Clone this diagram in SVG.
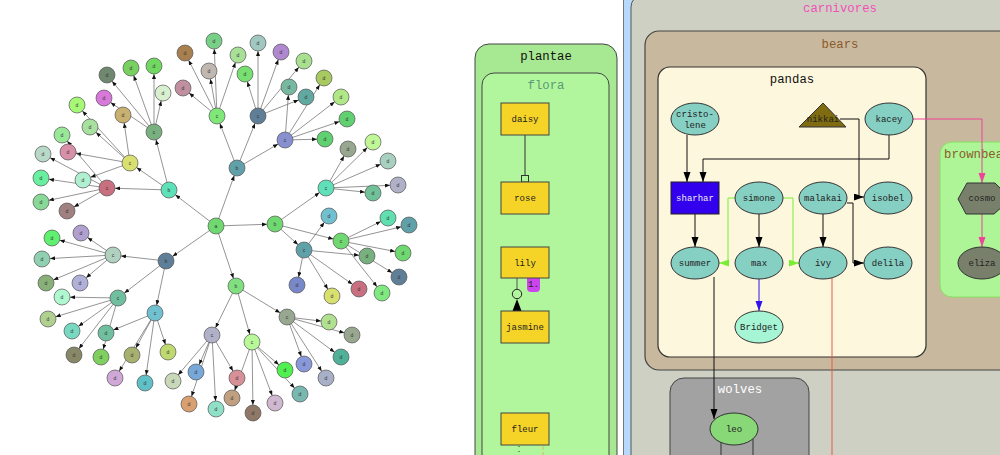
<svg xmlns="http://www.w3.org/2000/svg" width="1000" height="455" viewBox="0 0 1000 455">
<style>
.tc{stroke:#555;stroke-width:0.7}
.tt{font-family:"Liberation Sans",sans-serif;font-size:5px;fill:#333;text-anchor:middle}
.te path{fill:none;stroke:#666;stroke-width:0.7;marker-end:url(#ta)}
.lbl{font-family:"Liberation Mono",monospace;font-size:12.3px;text-anchor:middle}
.nl{font-family:"Liberation Mono",monospace;font-size:9px;text-anchor:middle;fill:#222}
.el{fill:#86cfc3;stroke:#333;stroke-width:1}
.yr{fill:#f5d327;stroke:#444;stroke-width:1}
.bk{fill:none;stroke:#111;stroke-width:1}
</style>
<defs>
<marker id="ta" markerUnits="userSpaceOnUse" markerWidth="6" markerHeight="5" refX="13" refY="2" orient="auto"><path d="M0,0L5,2L0,4z" fill="#111"/></marker>
<marker id="ab" markerUnits="userSpaceOnUse" markerWidth="10" markerHeight="8" refX="10" refY="3.5" orient="auto"><path d="M0,0L10,3.5L0,7z" fill="#000"/></marker>
<marker id="ag" markerUnits="userSpaceOnUse" markerWidth="10" markerHeight="8" refX="10" refY="3.5" orient="auto"><path d="M0,0L10,3.5L0,7z" fill="#77ee33"/></marker>
<marker id="au" markerUnits="userSpaceOnUse" markerWidth="10" markerHeight="8" refX="10" refY="3.5" orient="auto"><path d="M0,0L10,3.5L0,7z" fill="#3311ee"/></marker>
<marker id="ap" markerUnits="userSpaceOnUse" markerWidth="10" markerHeight="8" refX="10" refY="3.5" orient="auto"><path d="M0,0L10,3.5L0,7z" fill="#ee4499"/></marker>
</defs>
<rect width="1000" height="455" fill="#fff"/>

<!-- radial tree connectors -->
<g id="tree-edges" class="te">
<path d="M216,226L169,190"/><path d="M216,226L237,168"/><path d="M216,226L275,224"/><path d="M216,226L166,261"/><path d="M216,226L236,286"/>
<path d="M169,190L107,188"/><path d="M169,190L130,163"/><path d="M169,190L154,132"/>
<path d="M237,168L217,116"/><path d="M237,168L258,116"/><path d="M237,168L285,140"/>
<path d="M275,224L326,188"/><path d="M275,224L304,250"/><path d="M275,224L341,241"/>
<path d="M166,261L113,255"/><path d="M166,261L118,298"/><path d="M166,261L155,313"/>
<path d="M236,286L212,335"/><path d="M236,286L252,342"/><path d="M236,286L287,317"/>
<path d="M154,132L107,75"/><path d="M154,132L131,68"/><path d="M154,132L154,66"/><path d="M154,132L163,93"/><path d="M154,132L104,98"/>
<path d="M130,163L123,115"/><path d="M130,163L90,127"/><path d="M130,163L77,105"/><path d="M130,163L68,152"/><path d="M130,163L83,180"/>
<path d="M107,188L62,135"/><path d="M107,188L43,154"/><path d="M107,188L41,178"/><path d="M107,188L41,202"/><path d="M107,188L67,211"/>
<path d="M217,116L185,53"/><path d="M217,116L183,88"/><path d="M217,116L209,71"/><path d="M217,116L214,41"/><path d="M217,116L238,55"/>
<path d="M258,116L245,74"/><path d="M258,116L258,43"/><path d="M258,116L281,52"/><path d="M258,116L304,61"/><path d="M258,116L306,97"/>
<path d="M285,140L289,87"/><path d="M285,140L324,78"/><path d="M285,140L341,97"/><path d="M285,140L347,119"/><path d="M285,140L325,139"/>
<path d="M326,188L348,149"/><path d="M326,188L373,142"/><path d="M326,188L388,161"/><path d="M326,188L398,185"/><path d="M326,188L373,193"/>
<path d="M304,250L329,216"/><path d="M304,250L297,285"/><path d="M304,250L332,296"/><path d="M304,250L359,289"/><path d="M304,250L367,256"/>
<path d="M341,241L388,218"/><path d="M341,241L409,225"/><path d="M341,241L403,253"/><path d="M341,241L399,277"/><path d="M341,241L382,293"/>
<path d="M113,255L81,233"/><path d="M113,255L52,238"/><path d="M113,255L42,259"/><path d="M113,255L46,283"/><path d="M113,255L80,283"/>
<path d="M118,298L62,297"/><path d="M118,298L48,319"/><path d="M118,298L72,331"/><path d="M118,298L74,355"/><path d="M118,298L101,357"/>
<path d="M155,313L106,333"/><path d="M155,313L132,355"/><path d="M155,313L168,352"/><path d="M155,313L115,378"/><path d="M155,313L145,383"/>
<path d="M212,335L196,372"/><path d="M212,335L173,381"/><path d="M212,335L189,404"/><path d="M212,335L216,409"/><path d="M212,335L237,378"/>
<path d="M252,342L232,398"/><path d="M252,342L253,413"/><path d="M252,342L275,403"/><path d="M252,342L300,394"/><path d="M252,342L285,370"/>
<path d="M287,317L329,322"/><path d="M287,317L352,335"/><path d="M287,317L341,357"/><path d="M287,317L326,378"/><path d="M287,317L304,364"/>
</g>

<!-- radial tree nodes -->
<g id="tree-nodes">
<g id="t-a"><circle class="tc" cx="216" cy="226" r="8" fill="#70d870"/><text class="tt" x="216" y="228">a</text></g>
<g id="t-b1"><circle class="tc" cx="169" cy="190" r="8" fill="#5ee0b8"/><text class="tt" x="169" y="192">b</text></g>
<g id="t-b2"><circle class="tc" cx="237" cy="168" r="8" fill="#60a0a8"/><text class="tt" x="237" y="170">b</text></g>
<g id="t-b3"><circle class="tc" cx="275" cy="224" r="8" fill="#70d870"/><text class="tt" x="275" y="226">b</text></g>
<g id="t-b4"><circle class="tc" cx="166" cy="261" r="8" fill="#5f7f98"/><text class="tt" x="166" y="263">b</text></g>
<g id="t-b5"><circle class="tc" cx="236" cy="286" r="8" fill="#80e080"/><text class="tt" x="236" y="288">b</text></g>
<g id="t-c1"><circle class="tc" cx="107" cy="188" r="8" fill="#c87080"/><text class="tt" x="107" y="190">c</text></g>
<g id="t-c2"><circle class="tc" cx="130" cy="163" r="8" fill="#d8e070"/><text class="tt" x="130" y="165">c</text></g>
<g id="t-c3"><circle class="tc" cx="154" cy="132" r="8" fill="#78b080"/><text class="tt" x="154" y="134">c</text></g>
<g id="t-c4"><circle class="tc" cx="217" cy="116" r="8" fill="#80e878"/><text class="tt" x="217" y="118">c</text></g>
<g id="t-c5"><circle class="tc" cx="258" cy="116" r="8" fill="#5f7f98"/><text class="tt" x="258" y="118">c</text></g>
<g id="t-c6"><circle class="tc" cx="285" cy="140" r="8" fill="#8890d0"/><text class="tt" x="285" y="142">c</text></g>
<g id="t-c7"><circle class="tc" cx="326" cy="188" r="8" fill="#60e0b8"/><text class="tt" x="326" y="190">c</text></g>
<g id="t-c8"><circle class="tc" cx="304" cy="250" r="8" fill="#60a0a8"/><text class="tt" x="304" y="252">c</text></g>
<g id="t-c9"><circle class="tc" cx="341" cy="241" r="8" fill="#70d870"/><text class="tt" x="341" y="243">c</text></g>
<g id="t-c10"><circle class="tc" cx="113" cy="255" r="8" fill="#b0d0c0"/><text class="tt" x="113" y="257">c</text></g>
<g id="t-c11"><circle class="tc" cx="118" cy="298" r="8" fill="#70c0a0"/><text class="tt" x="118" y="300">c</text></g>
<g id="t-c12"><circle class="tc" cx="155" cy="313" r="8" fill="#70c0d0"/><text class="tt" x="155" y="315">c</text></g>
<g id="t-c13"><circle class="tc" cx="212" cy="335" r="8" fill="#b0b0c8"/><text class="tt" x="212" y="337">c</text></g>
<g id="t-c14"><circle class="tc" cx="252" cy="342" r="8" fill="#b8f898"/><text class="tt" x="252" y="344">c</text></g>
<g id="t-c15"><circle class="tc" cx="287" cy="317" r="8" fill="#98a890"/><text class="tt" x="287" y="319">c</text></g>
<g id="t-d1"><circle class="tc" cx="107" cy="75" r="8" fill="#708870"/><text class="tt" x="107" y="77">d</text></g>
<g id="t-d2"><circle class="tc" cx="131" cy="68" r="8" fill="#78d060"/><text class="tt" x="131" y="70">d</text></g>
<g id="t-d3"><circle class="tc" cx="154" cy="66" r="8" fill="#70d860"/><text class="tt" x="154" y="68">d</text></g>
<g id="t-d4"><circle class="tc" cx="163" cy="93" r="8" fill="#d8f0d0"/><text class="tt" x="163" y="95">d</text></g>
<g id="t-d5"><circle class="tc" cx="104" cy="98" r="8" fill="#d878d8"/><text class="tt" x="104" y="100">d</text></g>
<g id="t-d6"><circle class="tc" cx="123" cy="115" r="8" fill="#c8b070"/><text class="tt" x="123" y="117">d</text></g>
<g id="t-d7"><circle class="tc" cx="90" cy="127" r="8" fill="#a8e0a0"/><text class="tt" x="90" y="129">d</text></g>
<g id="t-d8"><circle class="tc" cx="77" cy="105" r="8" fill="#a8f878"/><text class="tt" x="77" y="107">d</text></g>
<g id="t-d9"><circle class="tc" cx="68" cy="152" r="8" fill="#d890a8"/><text class="tt" x="68" y="154">d</text></g>
<g id="t-d10"><circle class="tc" cx="83" cy="180" r="8" fill="#b0f0d0"/><text class="tt" x="83" y="182">d</text></g>
<g id="t-d11"><circle class="tc" cx="62" cy="135" r="8" fill="#98e898"/><text class="tt" x="62" y="137">d</text></g>
<g id="t-d12"><circle class="tc" cx="43" cy="154" r="8" fill="#b8d8c8"/><text class="tt" x="43" y="156">d</text></g>
<g id="t-d13"><circle class="tc" cx="41" cy="178" r="8" fill="#68f0a0"/><text class="tt" x="41" y="180">d</text></g>
<g id="t-d14"><circle class="tc" cx="41" cy="202" r="8" fill="#88d898"/><text class="tt" x="41" y="204">d</text></g>
<g id="t-d15"><circle class="tc" cx="67" cy="211" r="8" fill="#a08080"/><text class="tt" x="67" y="213">d</text></g>
<g id="t-d16"><circle class="tc" cx="185" cy="53" r="8" fill="#a88050"/><text class="tt" x="185" y="55">d</text></g>
<g id="t-d17"><circle class="tc" cx="183" cy="88" r="8" fill="#c090a0"/><text class="tt" x="183" y="90">d</text></g>
<g id="t-d18"><circle class="tc" cx="209" cy="71" r="8" fill="#c0b8b0"/><text class="tt" x="209" y="73">d</text></g>
<g id="t-d19"><circle class="tc" cx="214" cy="41" r="8" fill="#78d088"/><text class="tt" x="214" y="43">d</text></g>
<g id="t-d20"><circle class="tc" cx="238" cy="55" r="8" fill="#a8e098"/><text class="tt" x="238" y="57">d</text></g>
<g id="t-d21"><circle class="tc" cx="245" cy="74" r="8" fill="#78e070"/><text class="tt" x="245" y="76">d</text></g>
<g id="t-d22"><circle class="tc" cx="258" cy="43" r="8" fill="#a0c8c0"/><text class="tt" x="258" y="45">d</text></g>
<g id="t-d23"><circle class="tc" cx="281" cy="52" r="8" fill="#b088d0"/><text class="tt" x="281" y="54">d</text></g>
<g id="t-d24"><circle class="tc" cx="304" cy="61" r="8" fill="#a8e090"/><text class="tt" x="304" y="63">d</text></g>
<g id="t-d25"><circle class="tc" cx="306" cy="97" r="8" fill="#60a8a0"/><text class="tt" x="306" y="99">d</text></g>
<g id="t-d26"><circle class="tc" cx="289" cy="87" r="8" fill="#78b8a0"/><text class="tt" x="289" y="89">d</text></g>
<g id="t-d27"><circle class="tc" cx="324" cy="78" r="8" fill="#a8c860"/><text class="tt" x="324" y="80">d</text></g>
<g id="t-d28"><circle class="tc" cx="341" cy="97" r="8" fill="#b0e888"/><text class="tt" x="341" y="99">d</text></g>
<g id="t-d29"><circle class="tc" cx="347" cy="119" r="8" fill="#60d070"/><text class="tt" x="347" y="121">d</text></g>
<g id="t-d30"><circle class="tc" cx="325" cy="139" r="8" fill="#60d070"/><text class="tt" x="325" y="141">d</text></g>
<g id="t-d31"><circle class="tc" cx="348" cy="149" r="8" fill="#98a890"/><text class="tt" x="348" y="151">d</text></g>
<g id="t-d32"><circle class="tc" cx="373" cy="142" r="8" fill="#c0f898"/><text class="tt" x="373" y="144">d</text></g>
<g id="t-d33"><circle class="tc" cx="388" cy="161" r="8" fill="#a8d0c0"/><text class="tt" x="388" y="163">d</text></g>
<g id="t-d34"><circle class="tc" cx="398" cy="185" r="8" fill="#b0b0c8"/><text class="tt" x="398" y="187">d</text></g>
<g id="t-d35"><circle class="tc" cx="373" cy="193" r="8" fill="#70c098"/><text class="tt" x="373" y="195">d</text></g>
<g id="t-d36"><circle class="tc" cx="329" cy="216" r="8" fill="#70c0d0"/><text class="tt" x="329" y="218">d</text></g>
<g id="t-d37"><circle class="tc" cx="297" cy="285" r="8" fill="#7888c8"/><text class="tt" x="297" y="287">d</text></g>
<g id="t-d38"><circle class="tc" cx="332" cy="296" r="8" fill="#d8e070"/><text class="tt" x="332" y="298">d</text></g>
<g id="t-d39"><circle class="tc" cx="359" cy="289" r="8" fill="#c87080"/><text class="tt" x="359" y="291">d</text></g>
<g id="t-d40"><circle class="tc" cx="367" cy="256" r="8" fill="#78b080"/><text class="tt" x="367" y="258">d</text></g>
<g id="t-d41"><circle class="tc" cx="388" cy="218" r="8" fill="#60e0b0"/><text class="tt" x="388" y="220">d</text></g>
<g id="t-d42"><circle class="tc" cx="409" cy="225" r="8" fill="#60a0a8"/><text class="tt" x="409" y="227">d</text></g>
<g id="t-d43"><circle class="tc" cx="403" cy="253" r="8" fill="#70d870"/><text class="tt" x="403" y="255">d</text></g>
<g id="t-d44"><circle class="tc" cx="399" cy="277" r="8" fill="#5f7f98"/><text class="tt" x="399" y="279">d</text></g>
<g id="t-d45"><circle class="tc" cx="382" cy="293" r="8" fill="#80e880"/><text class="tt" x="382" y="295">d</text></g>
<g id="t-d46"><circle class="tc" cx="81" cy="233" r="8" fill="#b0a0d0"/><text class="tt" x="81" y="235">d</text></g>
<g id="t-d47"><circle class="tc" cx="52" cy="238" r="8" fill="#60f070"/><text class="tt" x="52" y="240">d</text></g>
<g id="t-d48"><circle class="tc" cx="42" cy="259" r="8" fill="#90d0b0"/><text class="tt" x="42" y="261">d</text></g>
<g id="t-d49"><circle class="tc" cx="46" cy="283" r="8" fill="#88b078"/><text class="tt" x="46" y="285">d</text></g>
<g id="t-d50"><circle class="tc" cx="80" cy="283" r="8" fill="#b0b0d8"/><text class="tt" x="80" y="285">d</text></g>
<g id="t-d51"><circle class="tc" cx="62" cy="297" r="8" fill="#b0f8d0"/><text class="tt" x="62" y="299">d</text></g>
<g id="t-d52"><circle class="tc" cx="48" cy="319" r="8" fill="#b0d090"/><text class="tt" x="48" y="321">d</text></g>
<g id="t-d53"><circle class="tc" cx="72" cy="331" r="8" fill="#78d8c0"/><text class="tt" x="72" y="333">d</text></g>
<g id="t-d54"><circle class="tc" cx="74" cy="355" r="8" fill="#888868"/><text class="tt" x="74" y="357">d</text></g>
<g id="t-d55"><circle class="tc" cx="101" cy="357" r="8" fill="#80d060"/><text class="tt" x="101" y="359">d</text></g>
<g id="t-d56"><circle class="tc" cx="106" cy="333" r="8" fill="#70c0a0"/><text class="tt" x="106" y="335">d</text></g>
<g id="t-d57"><circle class="tc" cx="132" cy="355" r="8" fill="#a8b070"/><text class="tt" x="132" y="357">d</text></g>
<g id="t-d58"><circle class="tc" cx="168" cy="352" r="8" fill="#c0d870"/><text class="tt" x="168" y="354">d</text></g>
<g id="t-d59"><circle class="tc" cx="115" cy="378" r="8" fill="#d0a8d8"/><text class="tt" x="115" y="380">d</text></g>
<g id="t-d60"><circle class="tc" cx="145" cy="383" r="8" fill="#60c0c8"/><text class="tt" x="145" y="385">d</text></g>
<g id="t-d61"><circle class="tc" cx="196" cy="372" r="8" fill="#78a8d8"/><text class="tt" x="196" y="374">d</text></g>
<g id="t-d62"><circle class="tc" cx="173" cy="381" r="8" fill="#c8d8b8"/><text class="tt" x="173" y="383">d</text></g>
<g id="t-d63"><circle class="tc" cx="189" cy="404" r="8" fill="#d8a070"/><text class="tt" x="189" y="406">d</text></g>
<g id="t-d64"><circle class="tc" cx="216" cy="409" r="8" fill="#90e0c8"/><text class="tt" x="216" y="411">d</text></g>
<g id="t-d65"><circle class="tc" cx="237" cy="378" r="8" fill="#d89098"/><text class="tt" x="237" y="380">d</text></g>
<g id="t-d66"><circle class="tc" cx="232" cy="398" r="8" fill="#c0a080"/><text class="tt" x="232" y="400">d</text></g>
<g id="t-d67"><circle class="tc" cx="253" cy="413" r="8" fill="#907868"/><text class="tt" x="253" y="415">d</text></g>
<g id="t-d68"><circle class="tc" cx="275" cy="403" r="8" fill="#d0b8d0"/><text class="tt" x="275" y="405">d</text></g>
<g id="t-d69"><circle class="tc" cx="300" cy="394" r="8" fill="#78b8b0"/><text class="tt" x="300" y="396">d</text></g>
<g id="t-d70"><circle class="tc" cx="285" cy="370" r="8" fill="#50f050"/><text class="tt" x="285" y="372">d</text></g>
<g id="t-d71"><circle class="tc" cx="329" cy="322" r="8" fill="#b0e090"/><text class="tt" x="329" y="324">d</text></g>
<g id="t-d72"><circle class="tc" cx="352" cy="335" r="8" fill="#98a890"/><text class="tt" x="352" y="337">d</text></g>
<g id="t-d73"><circle class="tc" cx="341" cy="357" r="8" fill="#50b098"/><text class="tt" x="341" y="359">d</text></g>
<g id="t-d74"><circle class="tc" cx="326" cy="378" r="8" fill="#a8b0c8"/><text class="tt" x="326" y="380">d</text></g>
<g id="t-d75"><circle class="tc" cx="304" cy="364" r="8" fill="#8898d8"/><text class="tt" x="304" y="366">d</text></g>
</g>

<!-- plantae -->
<g id="plantae">
<rect x="475" y="44" width="142" height="440" rx="14" fill="#a7e892" stroke="#444" stroke-width="1"/>
<text class="lbl" x="546" y="60" fill="#111">plantae</text>
</g>
<g id="flora">
<rect x="482" y="73" width="127" height="420" rx="12" fill="#b1f69c" stroke="#444" stroke-width="1"/>
<text class="lbl" x="546" y="89" fill="#5a9a7a">flora</text>
</g>
<g id="plant-edges">
<path d="M525,135V175" stroke="#333" stroke-width="1" fill="none"/>
<rect x="521.5" y="175.5" width="7" height="6.5" fill="#b1f69c" stroke="#333" stroke-width="1"/>
<path d="M517,278V289" stroke="#555" stroke-width="1" fill="none"/>
<circle cx="517" cy="294" r="4.7" fill="none" stroke="#222" stroke-width="1"/>
<path d="M517,299L521.5,311L512.5,311z" fill="#000"/>
<rect x="527" y="275" width="13" height="17" rx="4" fill="#cc44ee"/>
<text class="nl" x="533.5" y="287" fill="#222">1.</text>
<path d="M519,446V455" stroke="#333" stroke-width="1" stroke-dasharray="1,4"/>
<path d="M543,446V455" stroke="#e0b860" stroke-width="1" stroke-dasharray="4,2"/>
</g>
<g id="daisy"><rect class="yr" x="501" y="103" width="48" height="32"/><text class="nl" x="525" y="122">daisy</text></g>
<g id="rose"><rect class="yr" x="501" y="182" width="48" height="32"/><text class="nl" x="525" y="201">rose</text></g>
<g id="lily"><rect class="yr" x="501" y="247" width="48" height="31"/><text class="nl" x="525" y="266">lily</text></g>
<g id="jasmine"><rect class="yr" x="501" y="311" width="48" height="32"/><text class="nl" x="525" y="330">jasmine</text></g>
<g id="fleur"><rect class="yr" x="501" y="413" width="48" height="32"/><text class="nl" x="525" y="432">fleur</text></g>

<!-- animals -->
<g id="animals"><rect x="623.5" y="-20" width="420" height="500" fill="#b7d9fb" stroke="#777" stroke-width="1"/></g>
<g id="carnivores">
<rect x="631" y="-5" width="420" height="480" rx="12" fill="#cfd0c4" stroke="#555" stroke-width="1"/>
<text class="lbl" x="840" y="12" fill="#f050b8">carnivores</text>
</g>
<g id="bears">
<rect x="645" y="31" width="400" height="339" rx="14" fill="#c8b89e" stroke="#444" stroke-width="1.2"/>
<text class="lbl" x="840" y="48" fill="#8b5a2b">bears</text>
</g>
<g id="pandas">
<rect x="658" y="67" width="268" height="290" rx="12" fill="#fdf7dd" stroke="#333" stroke-width="1.2"/>
<text class="lbl" x="792" y="83" fill="#111">pandas</text>
</g>
<g id="brownbears">
<rect x="940" y="142" width="100" height="155" rx="12" fill="#adf596" stroke="#88e060" stroke-width="1"/>
<text class="lbl" x="944" y="158" fill="#8b5a2b" style="text-anchor:start">brownbears</text>
</g>
<g id="wolves">
<rect x="670" y="378" width="139" height="100" rx="14" fill="#a2a2a2" stroke="#444" stroke-width="1"/>
<text class="lbl" x="740" y="393" fill="#fff">wolves</text>
</g>

<g id="connectors">
<path class="bk" d="M687,135V182" marker-end="url(#ab)"/>
<path class="bk" d="M889,135V159H703V182" marker-end="url(#ab)"/>
<path class="bk" d="M840,119H859V197H864" marker-end="url(#ab)"/>
<path class="bk" d="M695,214V247" marker-end="url(#ab)"/>
<path class="bk" d="M759,214V247" marker-end="url(#ab)"/>
<path class="bk" d="M823,214V247" marker-end="url(#ab)"/>
<path class="bk" d="M847,203H853V263H864" marker-end="url(#ab)"/>
<path d="M735,198H728V263H719" fill="none" stroke="#77ee33" stroke-width="1" marker-end="url(#ag)"/>
<path d="M783,198H793V263H799" fill="none" stroke="#77ee33" stroke-width="1" marker-end="url(#ag)"/>
<path d="M759,279V311" fill="none" stroke="#3311ee" stroke-width="1" marker-end="url(#au)"/>
<path class="bk" d="M714,277V419" marker-end="url(#ab)"/>
<path d="M832,278V455" fill="none" stroke="#e85a40" stroke-width="1"/>
<path d="M913,119H982V183" fill="none" stroke="#ee4499" stroke-width="1" marker-end="url(#ap)"/>
<path d="M982,214V247" fill="none" stroke="#ee4499" stroke-width="1" marker-end="url(#ap)"/>
<path d="M721,442V455M753,439V455" fill="none" stroke="#333" stroke-width="1"/>
</g>

<g id="cristolene"><ellipse class="el" cx="695" cy="119" rx="24" ry="16"/><text class="nl" x="695" y="117">cristo-</text><text class="nl" x="695" y="128">lene</text></g>
<g id="nikkai"><path d="M823,103L846,127H799z" fill="#7f6b10" stroke="#333" stroke-width="1"/><text class="nl" x="823" y="122">nikkai</text></g>
<g id="kacey"><ellipse class="el" cx="889" cy="119" rx="24" ry="16"/><text class="nl" x="889" y="122">kacey</text></g>
<g id="sharhar"><rect x="671" y="182" width="48" height="32" fill="#3300ee" stroke="#222" stroke-width="1"/><text class="nl" x="695" y="201" style="fill:#eee">sharhar</text></g>
<g id="simone"><ellipse class="el" cx="759" cy="198" rx="24" ry="16"/><text class="nl" x="759" y="201">simone</text></g>
<g id="malakai"><ellipse class="el" cx="823" cy="198" rx="24" ry="16"/><text class="nl" x="823" y="201">malakai</text></g>
<g id="isobel"><ellipse class="el" cx="888" cy="198" rx="24" ry="16"/><text class="nl" x="888" y="201">isobel</text></g>
<g id="summer"><ellipse class="el" cx="695" cy="263" rx="24" ry="16"/><text class="nl" x="695" y="266">summer</text></g>
<g id="max"><ellipse class="el" cx="759" cy="263" rx="24" ry="16"/><text class="nl" x="759" y="266">max</text></g>
<g id="ivy"><ellipse class="el" cx="823" cy="263" rx="24" ry="16"/><text class="nl" x="823" y="266">ivy</text></g>
<g id="delila"><ellipse class="el" cx="888" cy="263" rx="24" ry="16"/><text class="nl" x="888" y="266">delila</text></g>
<g id="bridget"><ellipse class="el" cx="759" cy="327" rx="24" ry="16" style="fill:#a6f6d6"/><text class="nl" x="759" y="330">Bridget</text></g>
<g id="cosmo"><path d="M967,183H995L1005,193L1003,206L994,214H966L958,199z" fill="#78806c" stroke="#333" stroke-width="1"/><text class="nl" x="982" y="201">cosmo</text></g>
<g id="eliza"><ellipse cx="982" cy="263" rx="24" ry="16" fill="#78806c" stroke="#333" stroke-width="1"/><text class="nl" x="982" y="266">eliza</text></g>
<g id="leo"><ellipse cx="734" cy="429" rx="24" ry="16" fill="#88d878" stroke="#333" stroke-width="1"/><text class="nl" x="734" y="432">leo</text></g>
</svg>
